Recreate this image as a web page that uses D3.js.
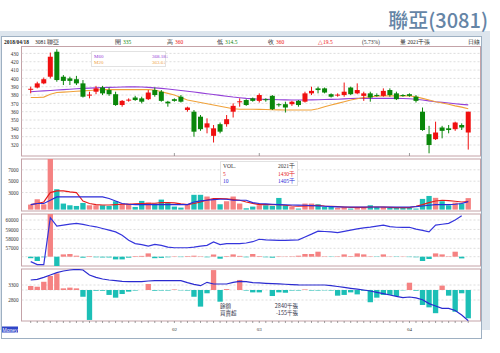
<!DOCTYPE html>
<html><head><meta charset="utf-8">
<script src="https://cdn.jsdelivr.net/npm/d3@7/dist/d3.min.js"></script>
<style>
body{margin:0;background:#fff;}
svg{display:block;font-family:"Noto Sans CJK TC","Liberation Sans",sans-serif;}
</style></head><body>
<script>
// daily K (68 trading days up to 2018/04/18)
var open  = [387,389,394,402,432,402,400,399,394,380,384,389,386,381,368,374,377,376,375,386,384,372,375,378,362,360,354,341,331,345,345,360,372,374,376,373,375,379,369,369,369,373,372,382,388,388,381,380,380,389,382,379,382,380,379,386,382,380,381,378,360,333,327,341,340,339,344,335];
var high  = [390,396,401,431,435,404,402,403,398,384,391,391,389,384,374,376,379,378,386,389,386,373,376,380,366,362,356,352,344,347,356,370,376,375,377,382,376,380,370,372,373,374,384,390,390,389,382,382,395,390,394,384,384,382,388,388,384,381,382,380,365,343,348,343,344,348,346,360];
var low   = [382,388,393,400,396,392,392,392,377,376,381,380,379,367,366,372,373,370,374,378,372,366,372,371,360,330,337,334,323,334,342,353,366,367,372,371,372,362,366,359,367,366,371,380,382,382,377,378,378,380,381,373,372,378,378,378,374,378,378,371,337,310,326,328,334,337,338,314.5];
var close = [387.5,394,399,426,398,397,397,394,378,380.5,388,382,381,368,373,374.5,374,372,383,380,373,370,373,372,365,336,339,346,340,336,351,367,372.5,368,373,380,374,363,368,365,372,368,382,385,386,383,378,380.5,384,381,386,382,377,379,385,380,375,379,379,373,338,320,335,337,338,347,341,360];
var ma60 = [384,384.5,385,385.5,386,386.5,387,387.5,388,388.3,388.6,389,389.2,389.4,389.6,389.8,390,389.6,389.2,388.6,388,387.2,386.4,385.5,384.6,383.6,382.6,381.6,380.6,379.6,378.6,377.6,376.8,376,375.5,375,374.8,374.6,374.4,374.2,374,374,374,374.2,374.4,374.6,374.8,375,375.4,375.8,376,376,376,376,376,376,376,375.8,375.6,375,374,373,372,371.2,370.4,369.6,368.8,368.18];
var ma20 = [377,377,377.5,381,383,383.5,384,384.5,385,385.5,386,386.5,386.5,386.5,386.5,386.5,386.5,386.5,386.5,386,384,382,380,377,374,372.5,371,369.5,368,366.5,365,363.5,363,363,363,362.8,362.6,362.4,362.2,362,362,362,362,362,363.5,366,368,370,372,374,375.5,377,378,378.5,379,379,379,379,379,378,376,374,372,370.5,369,367,365.5,363.6];

// volume (張) and its moving averages
var volume = [880,1820,930,9500,3580,1060,760,640,1170,760,760,760,640,1470,1060,1060,470,1530,1230,1060,1760,1230,530,350,880,2600,2600,2300,1880,940,1470,2300,1060,230,530,760,760,640,2050,760,470,180,1060,1060,940,470,470,290,470,180,290,470,760,470,470,290,290,410,290,180,1880,2400,2070,1470,760,1230,1060,2021];
var vma5 = [880,1060,1350,2990,3290,3290,3110,2990,1500,1060,880,820,820,880,940,940,1000,1060,1120,1120,1230,1230,1180,1000,880,1060,1350,1700,1940,1940,1880,1760,1640,1350,1100,880,880,880,880,760,640,580,640,700,760,640,580,520,460,400,400,400,460,460,460,400,350,350,350,580,880,1230,1520,1640,1580,1470,1350,1430];
var vma10 = [880,1060,1060,1640,2230,2230,2230,2230,2230,2230,2230,2230,1940,1530,1060,940,880,880,880,880,880,880,880,880,880,1350,1530,1640,1760,1820,1820,1640,1640,1640,1230,1060,1000,940,880,840,800,780,760,700,640,580,520,480,460,460,460,460,460,460,460,460,460,460,460,520,640,760,880,880,880,940,1060,1405];

// chip panel: holdings line and daily change bars
var holdLine = [55590,55270,55270,60250,59350,59460,59570,59650,59540,59390,59280,59100,58920,58740,58390,57850,57500,57390,57240,57420,57310,57130,57060,57060,57060,57130,57240,57310,57670,57400,57500,57500,57500,57560,57700,57960,57890,57870,57850,57850,57870,57890,58200,58500,58820,58780,58750,58670,58800,58920,59050,59170,59250,59350,59460,59300,59230,59210,59230,59030,58900,58740,59460,59550,59650,60000,60460,null];
var holdBar = [-150,-430,-60,4900,-930,230,270,100,-100,60,-60,-80,-80,-270,-270,-100,60,80,330,-150,-120,-60,40,-40,60,100,40,-60,220,-200,60,230,80,-60,270,60,-60,-100,40,30,40,100,270,270,500,40,-30,40,230,60,330,230,40,-30,230,30,-30,30,-40,-60,-430,-230,330,230,40,500,-170,0];

// margin panel: balance (千張) and daily buy/sell
var marginLine = [3467,3489,3556,3633,3711,3767,3800,3822,3800,3633,3556,3500,3467,3444,3422,3411,3411,3411,3433,3444,3444,3444,3444,3444,3378,3322,3278,3389,3333,3333,3333,3389,3422,3411,3380,3370,3356,3345,3335,3325,3315,3305,3300,3300,3300,3300,3280,3250,3220,3189,3160,3133,3100,3056,3010,2967,2920,2878,2900,2870,2810,2680,2600,2522,2522,2450,2300,2111];
var marginBar = [22,18,45,77,91,9,13,9,-37,-164,-4,-4,-27,-42,-22,-9,-3,0,33,-4,-3,-3,3,-2,-3,-37,-91,-18,109,-64,5,0,55,-3,-13,-13,0,-33,-13,-15,-3,-3,3,-3,-3,-2,-3,-31,-27,-13,-24,-4,-67,-42,-27,-27,-33,-2,40,-4,-82,-95,-127,24,-31,-119,-18,-155];

var priceTicks = [320,330,340,350,360,370,380,390,400,410,420,430];
var volTicks = [3000,5000,7000];
var holdTicks = [57000,58000,59000,60000];
var marginTicks = [2800,3300];
var monthIdx = [22,35,58];
var monthLabels = ["02","03","04"];

var headerLabels = ["2018/04/18","3081 聯亞","開","高","低","收","","","量 2021千張","日線"];
var headerValues = ["","","335","360","314.5","360","△19.5","(5.73%)","",""];

var UP = "#f01010", DN = "#0a870a", VUP = "#f58282", VDN = "#1cbfb6";

var svg = d3.select("body").append("svg").attr("width", 500).attr("height", 353);

// frame
svg.append("rect").attr("x", 0).attr("y", 31).attr("width", 490).attr("height", 299).attr("fill", "#dde5ed");
svg.append("rect").attr("x", 1.5).attr("y", 36.5).attr("width", 480).attr("height", 302)
  .attr("fill", "#fff").attr("stroke", "#9eb0c2");
svg.append("text").attr("x", 488).attr("y", 28).attr("text-anchor", "end")
  .attr("font-size", 20).attr("font-weight", 500).attr("fill", "#6585a6").text("聯亞(3081)");

// header row
var hx = [4, 35, 115, 167, 217, 268, 318, 362, 400, 468];
headerLabels.forEach(function (t, i) {
  var tx = svg.append("text").attr("x", hx[i]).attr("y", 44).attr("font-size", 5.5)
    .attr("font-family", "Liberation Serif, serif").attr("fill", "#222");
  if (i == 0) tx.attr("font-weight", "bold");
  tx.append("tspan").text(t);
  if (headerValues[i] != "") {
    var col = (i == 2 || i == 4) ? DN : (i == 7 ? "#333" : UP);
    tx.append("tspan").attr("dx", t == "" ? 0 : 2).attr("fill", col).text(headerValues[i]);
  }
});

var x = d3.scaleBand().domain(d3.range(close.length)).range([27.45, 471.5]);
var cx = function (i) { return x(i) + x.bandwidth() / 2; };
var L = 21.5, R = 480.5;

function panel(id, y0, y1) {
  svg.append("rect").attr("x", L).attr("y", y0).attr("width", R - L).attr("height", y1 - y0)
    .attr("fill", "#fff").attr("stroke", "#c4a3a8");
  svg.append("clipPath").attr("id", id).append("rect")
    .attr("x", L).attr("y", y0).attr("width", R - L).attr("height", y1 - y0);
  return svg.append("g").attr("clip-path", "url(#" + id + ")");
}
function grid(g, y, ticks) {
  g.selectAll(null).data(ticks).enter().append("line")
    .attr("x1", L).attr("x2", R).attr("y1", d => y(d)).attr("y2", d => y(d))
    .attr("stroke", "#d4d4d4").attr("stroke-dasharray", "2,2").attr("stroke-width", 0.8);
}
function leftAxis(y, ticks) {
  var a = svg.append("g").attr("transform", "translate(" + (L - 1) + ",0)")
    .call(d3.axisLeft(y).tickValues(ticks).tickSize(0).tickPadding(2).tickFormat(d3.format("d")));
  a.select(".domain").remove();
  a.selectAll("text").attr("font-size", 5.2).attr("fill", "#333").attr("font-family", "Liberation Serif, serif");
}

// ---- price panel
var yP = d3.scaleLinear().domain([320, 430]).range([145, 53.4]);
var gP = panel("cp", 46.5, 156);
grid(gP, yP, priceTicks);
leftAxis(yP, priceTicks);

var lineP = function (arr) { return d3.line().x((d, i) => cx(i)).y(d => yP(d))(arr); };
gP.append("path").attr("d", lineP(ma60)).attr("fill", "none").attr("stroke", "#9440d8").attr("stroke-width", 1.1);
gP.append("path").attr("d", lineP(ma20)).attr("fill", "none").attr("stroke", "#f0a23a").attr("stroke-width", 1.1);

var candles = gP.selectAll(".k").data(close).enter().append("g");
candles.append("line")
  .attr("x1", (d, i) => cx(i)).attr("x2", (d, i) => cx(i))
  .attr("y1", (d, i) => yP(high[i])).attr("y2", (d, i) => yP(low[i]))
  .attr("stroke", (d, i) => d >= open[i] ? UP : DN).attr("stroke-width", 1);
candles.append("rect")
  .attr("x", (d, i) => cx(i) - 2.5).attr("width", 5)
  .attr("y", (d, i) => yP(Math.max(d, open[i])))
  .attr("height", (d, i) => Math.max(1, Math.abs(yP(d) - yP(open[i]))))
  .attr("fill", (d, i) => d >= open[i] ? UP : DN);

// month marks at panel bottom
svg.selectAll(null).data(monthIdx).enter().append("line")
  .attr("x1", d => cx(d)).attr("x2", d => cx(d)).attr("y1", 153).attr("y2", 156)
  .attr("stroke", "#888").attr("stroke-width", 0.8);

// MA legend
var lg = svg.append("g");
lg.append("rect").attr("x", 91.5).attr("y", 51.5).attr("width", 74).attr("height", 15)
  .attr("fill", "#fff").attr("stroke", "#e2e2e2");
[["M60", "368.18↓", "#9440d8"], ["M20", "363.6↓", "#eea040"]].forEach(function (r, k) {
  lg.append("text").attr("x", 94).attr("y", 58 + k * 6).attr("font-size", 5).attr("fill", r[2])
    .attr("font-family", "Liberation Serif, serif").text(r[0]);
  lg.append("text").attr("x", 152).attr("y", 58 + k * 6).attr("font-size", 5).attr("fill", r[2])
    .attr("font-family", "Liberation Serif, serif").text(r[1]);
});

// ---- volume panel
var yV = d3.scaleLinear().domain([0, 7000]).range([209.6, 169.8]);
var gV = panel("cv", 159, 211);
grid(gV, yV, volTicks);
leftAxis(yV, volTicks);
gV.selectAll(null).data(volume).enter().append("rect")
  .attr("x", (d, i) => x(i) + 0.6).attr("width", x.bandwidth() - 1.2)
  .attr("y", d => yV(d)).attr("height", d => yV(0) - yV(d))
  .attr("fill", (d, i) => close[i] >= open[i] ? VUP : VDN);
var lineV = function (arr) { return d3.line().x((d, i) => cx(i)).y(d => yV(d))(arr); };
gV.append("path").attr("d", lineV(vma5)).attr("fill", "none").attr("stroke", "#e41c1c").attr("stroke-width", 1.1);
gV.append("path").attr("d", lineV(vma10)).attr("fill", "none").attr("stroke", "#2b2bd8").attr("stroke-width", 1.1);

var vl = svg.append("g");
vl.append("rect").attr("x", 220.5).attr("y", 161.5).attr("width", 77).attr("height", 24)
  .attr("fill", "#fff").attr("stroke", "#e2e2e2");
[["VOL.", "2021千", "#333"], ["5", "1430千", "#e41c1c"], ["10", "1405千", "#2b2bd8"]].forEach(function (r, k) {
  vl.append("text").attr("x", 223).attr("y", 168 + k * 7.5).attr("font-size", 5.5).attr("fill", r[2])
    .attr("font-family", "Liberation Serif, serif").text(r[0]);
  vl.append("text").attr("x", 295).attr("y", 168 + k * 7.5).attr("font-size", 5.5).attr("fill", r[2])
    .attr("text-anchor", "end").attr("font-family", "Liberation Serif, serif").text(r[1]);
});

// ---- chip panel
var yH = d3.scaleLinear().domain([57000, 60000]).range([248.3, 220]);
var yHB = d3.scaleLinear().domain([0, 1000]).range([256.7, 246.7]);
var gH = panel("ch", 214, 266);
grid(gH, yH, holdTicks);
grid(gH, yHB, [0]);
leftAxis(yH, holdTicks);
gH.selectAll(null).data(holdBar).enter().append("rect")
  .attr("x", (d, i) => x(i) + 0.6).attr("width", x.bandwidth() - 1.2)
  .attr("y", d => Math.min(yHB(d), yHB(0))).attr("height", d => Math.abs(yHB(d) - yHB(0)))
  .attr("fill", d => d >= 0 ? VUP : VDN);
gH.append("path")
  .attr("d", d3.line().defined(d => d != null).x((d, i) => cx(i)).y(d => yH(d))(holdLine))
  .attr("fill", "none").attr("stroke", "#3535dc").attr("stroke-width", 1.2);

// ---- margin panel
var yM = d3.scaleLinear().domain([2800, 3300]).range([300, 285]);
var yMB = d3.scaleLinear().domain([0, -155]).range([290, 318.3]);
var gM = panel("cm", 269, 321);
grid(gM, yM, marginTicks);
grid(gM, yMB, [0]);
leftAxis(yM, marginTicks);
gM.selectAll(null).data(marginBar).enter().append("rect")
  .attr("x", (d, i) => x(i) + 0.6).attr("width", x.bandwidth() - 1.2)
  .attr("y", d => Math.min(yMB(d), yMB(0))).attr("height", d => Math.abs(yMB(d) - yMB(0)))
  .attr("fill", d => d >= 0 ? VUP : VDN);
gM.append("path")
  .attr("d", d3.line().x((d, i) => cx(i)).y(d => yM(d))(marginLine))
  .attr("fill", "none").attr("stroke", "#2a2ad0").attr("stroke-width", 1.2);

var ml = svg.append("g");
[["餘額", "2840千張"], ["買賣超", "-155千張"]].forEach(function (r, k) {
  ml.append("text").attr("x", 220).attr("y", 308 + k * 6.5).attr("font-size", 5.5).attr("fill", "#33334a").text(r[0]);
  ml.append("text").attr("x", 298).attr("y", 308 + k * 6.5).attr("font-size", 5.5).attr("fill", "#33334a")
    .attr("text-anchor", "end").text(r[1]);
});

// x axis
var ax = svg.append("g").attr("transform", "translate(0,321)")
  .call(d3.axisBottom(x).tickSize(2).tickFormat(""));
ax.select(".domain").remove();
ax.selectAll("line").attr("stroke", "#777").attr("stroke-width", 0.7);
svg.selectAll(null).data(monthIdx).enter().append("text")
  .attr("x", d => cx(d)).attr("y", 331).attr("text-anchor", "middle")
  .attr("font-size", 5).attr("fill", "#333").attr("font-family", "Liberation Serif, serif")
  .text((d, i) => monthLabels[i]);

// money tag
svg.append("rect").attr("x", 2).attr("y", 326.5).attr("width", 16).attr("height", 6).attr("fill", "#2f45c8");
svg.append("text").attr("x", 10).attr("y", 331.5).attr("text-anchor", "middle").attr("font-size", 5)
  .attr("fill", "#fff").attr("font-family", "Liberation Sans, sans-serif").text("Money");
</script>
</body></html>
